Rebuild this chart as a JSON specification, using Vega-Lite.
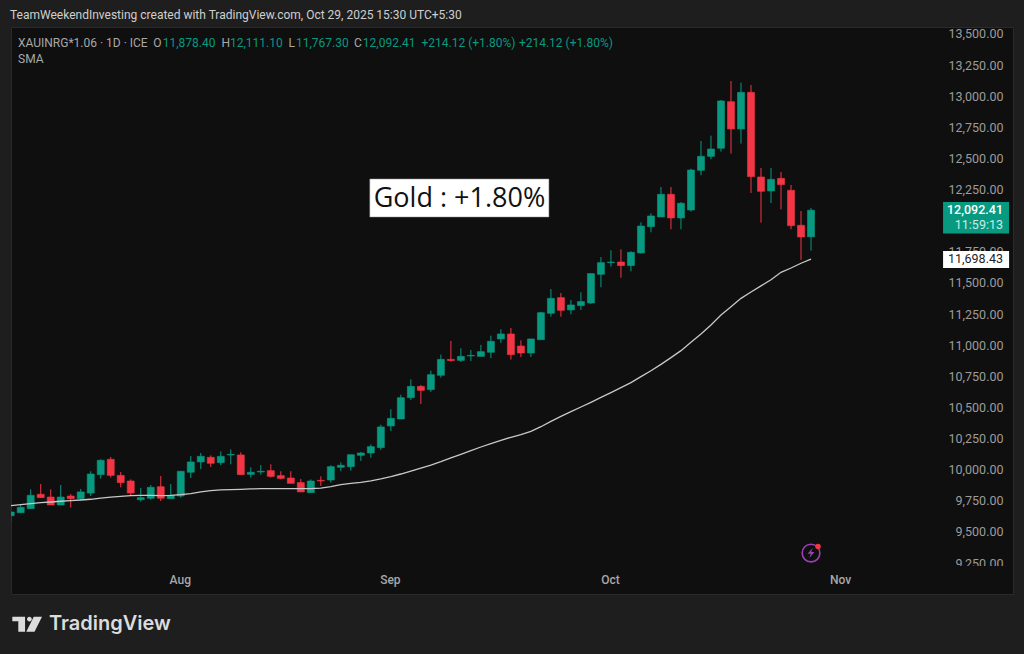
{
"$schema":"https://vega.github.io/schema/vega-lite/v6.json",
"width":1002,"height":567,
"autosize":{"type":"none"},
"padding":{"left":11,"top":27,"right":11,"bottom":60},
"background":"#1e1e1e",
"view":{"fill":"#0f0f0f","stroke":"#2a2a2a"},
"config":{"font":"Roboto"},
"datasets":{
"candles":[
{"n":0,"open":9638,"high":9668,"low":9590,"close":9668,"sma":9719},
{"n":1,"open":9662,"high":9724,"low":9662,"close":9705,"sma":9727},
{"n":2,"open":9695,"high":9850,"low":9695,"close":9802,"sma":9735},
{"n":3,"open":9810,"high":9893,"low":9783,"close":9783,"sma":9743},
{"n":4,"open":9788,"high":9850,"low":9724,"close":9724,"sma":9748},
{"n":5,"open":9724,"high":9885,"low":9724,"close":9788,"sma":9754},
{"n":6,"open":9796,"high":9812,"low":9703,"close":9775,"sma":9759},
{"n":7,"open":9775,"high":9853,"low":9764,"close":9829,"sma":9764},
{"n":8,"open":9820,"high":9995,"low":9796,"close":9973,"sma":9770},
{"n":9,"open":9968,"high":10091,"low":9936,"close":10083,"sma":9780},
{"n":10,"open":10091,"high":10110,"low":9944,"close":9962,"sma":9788},
{"n":11,"open":9962,"high":9989,"low":9866,"close":9904,"sma":9794},
{"n":12,"open":9917,"high":9930,"low":9796,"close":9820,"sma":9799},
{"n":13,"open":9767,"high":9861,"low":9751,"close":9783,"sma":9802},
{"n":14,"open":9778,"high":9885,"low":9767,"close":9866,"sma":9802},
{"n":15,"open":9871,"high":9957,"low":9756,"close":9778,"sma":9799},
{"n":16,"open":9775,"high":9893,"low":9775,"close":9802,"sma":9802},
{"n":17,"open":9796,"high":9995,"low":9783,"close":9995,"sma":9807},
{"n":18,"open":9987,"high":10118,"low":9941,"close":10070,"sma":9815},
{"n":19,"open":10070,"high":10142,"low":10013,"close":10115,"sma":9829},
{"n":20,"open":10107,"high":10123,"low":10029,"close":10059,"sma":9839},
{"n":21,"open":10064,"high":10155,"low":10045,"close":10115,"sma":9845},
{"n":22,"open":10126,"high":10171,"low":10051,"close":10131,"sma":9847},
{"n":23,"open":10126,"high":10147,"low":9968,"close":9968,"sma":9850},
{"n":24,"open":9970,"high":10027,"low":9944,"close":9987,"sma":9853},
{"n":25,"open":9989,"high":10045,"low":9968,"close":9995,"sma":9855},
{"n":26,"open":10000,"high":10051,"low":9944,"close":9954,"sma":9855},
{"n":27,"open":9960,"high":9995,"low":9930,"close":9938,"sma":9855},
{"n":28,"open":9941,"high":9995,"low":9898,"close":9898,"sma":9855},
{"n":29,"open":9904,"high":9933,"low":9829,"close":9829,"sma":9855},
{"n":30,"open":9823,"high":9930,"low":9823,"close":9917,"sma":9855},
{"n":31,"open":9922,"high":9954,"low":9877,"close":9917,"sma":9860},
{"n":32,"open":9925,"high":10043,"low":9904,"close":10032,"sma":9871},
{"n":33,"open":10027,"high":10067,"low":9995,"close":10043,"sma":9888},
{"n":34,"open":10032,"high":10128,"low":10000,"close":10128,"sma":9898},
{"n":35,"open":10123,"high":10150,"low":10078,"close":10142,"sma":9906},
{"n":36,"open":10142,"high":10211,"low":10104,"close":10193,"sma":9917},
{"n":37,"open":10185,"high":10369,"low":10166,"close":10351,"sma":9933},
{"n":38,"open":10359,"high":10493,"low":10319,"close":10420,"sma":9952},
{"n":39,"open":10415,"high":10610,"low":10415,"close":10586,"sma":9973},
{"n":40,"open":10586,"high":10734,"low":10568,"close":10677,"sma":9997},
{"n":41,"open":10677,"high":10688,"low":10535,"close":10645,"sma":10021},
{"n":42,"open":10651,"high":10803,"low":10632,"close":10771,"sma":10045},
{"n":43,"open":10766,"high":10932,"low":10747,"close":10894,"sma":10072},
{"n":44,"open":10894,"high":11042,"low":10876,"close":10884,"sma":10102},
{"n":45,"open":10886,"high":10983,"low":10873,"close":10918,"sma":10131},
{"n":46,"open":10921,"high":10969,"low":10881,"close":10926,"sma":10161},
{"n":47,"open":10918,"high":11010,"low":10918,"close":10956,"sma":10190},
{"n":48,"open":10951,"high":11084,"low":10905,"close":11039,"sma":10217},
{"n":49,"open":11058,"high":11135,"low":11026,"close":11098,"sma":10244},
{"n":50,"open":11098,"high":11146,"low":10892,"close":10932,"sma":10268},
{"n":51,"open":11001,"high":11047,"low":10913,"close":10945,"sma":10289},
{"n":52,"open":10945,"high":11058,"low":10913,"close":11058,"sma":10316},
{"n":53,"open":11052,"high":11275,"low":11052,"close":11269,"sma":10353},
{"n":54,"open":11264,"high":11459,"low":11237,"close":11384,"sma":10396},
{"n":55,"open":11390,"high":11427,"low":11237,"close":11288,"sma":10436},
{"n":56,"open":11291,"high":11371,"low":11256,"close":11331,"sma":10474},
{"n":57,"open":11326,"high":11433,"low":11291,"close":11358,"sma":10511},
{"n":58,"open":11347,"high":11583,"low":11339,"close":11583,"sma":10549},
{"n":59,"open":11577,"high":11716,"low":11473,"close":11671,"sma":10589},
{"n":60,"open":11671,"high":11770,"low":11639,"close":11676,"sma":10627},
{"n":61,"open":11676,"high":11778,"low":11550,"close":11647,"sma":10667},
{"n":62,"open":11647,"high":11762,"low":11601,"close":11754,"sma":10707},
{"n":63,"open":11749,"high":11995,"low":11743,"close":11965,"sma":10755},
{"n":64,"open":11960,"high":12067,"low":11915,"close":12046,"sma":10803},
{"n":65,"open":12038,"high":12279,"low":12038,"close":12220,"sma":10854},
{"n":66,"open":12220,"high":12279,"low":11939,"close":12030,"sma":10908},
{"n":67,"open":12030,"high":12158,"low":11939,"close":12148,"sma":10964},
{"n":68,"open":12094,"high":12426,"low":12081,"close":12415,"sma":11031},
{"n":69,"open":12413,"high":12648,"low":12373,"close":12525,"sma":11098},
{"n":70,"open":12525,"high":12691,"low":12501,"close":12584,"sma":11170},
{"n":71,"open":12590,"high":12978,"low":12563,"close":12970,"sma":11251},
{"n":72,"open":12964,"high":13130,"low":12547,"close":12745,"sma":11317},
{"n":73,"open":12745,"high":13117,"low":12627,"close":13039,"sma":11384},
{"n":74,"open":13039,"high":13098,"low":12231,"close":12362,"sma":11435},
{"n":75,"open":12359,"high":12432,"low":11992,"close":12244,"sma":11484},
{"n":76,"open":12247,"high":12432,"low":12150,"close":12340,"sma":11534},
{"n":77,"open":12348,"high":12399,"low":12099,"close":12298,"sma":11593},
{"n":78,"open":12252,"high":12295,"low":11939,"close":11968,"sma":11628},
{"n":79,"open":11971,"high":12086,"low":11692,"close":11877,"sma":11666},
{"n":80,"open":11878.40,"high":12111.10,"low":11767.30,"close":12092.41,"sma":11698.43}
]},
"encoding":{
"x":{"type":"quantitative","title":null,"scale":{"domain":[0.03,100.19],"nice":false,"zero":false,"padding":0},"axis":{"orient":"bottom","values":[17,38,60,83],"labelExpr":"datum.value==17?'Aug':datum.value==38?'Sep':datum.value==60?'Oct':'Nov'","domain":false,"ticks":false,"grid":false,"labelPadding":-15,"labelOffset":-1,"labelBaseline":"middle","labelColor":"#a8a8a8","labelFontSize":12,"labelFontWeight":500,"labelOverlap":false,"labelBound":false,"labelFlush":false}},
"y":{"type":"quantitative","title":null,"scale":{"domain":[9009,13564],"nice":false,"zero":false,"padding":0},"axis":{"orient":"right","values":[9250,9500,9750,10000,10250,10500,10750,11000,11250,11500,11750,12250,12500,12750,13000,13250,13500],"format":",.2f","domain":false,"ticks":false,"grid":false,"labelAlign":"right","labelPadding":-10,"labelOffset":-1,"labelColor":"#9c9c9c","labelFontSize":12.5,"labelOverlap":false,"labelBound":false,"labelFlush":false}}
},
"layer":[
{"data":{"name":"candles"},"mark":{"type":"rule","strokeWidth":1,"clip":true},
"encoding":{
"x":{"field":"n","type":"quantitative"},
"y":{"field":"low","type":"quantitative"},
"y2":{"field":"high"},
"color":{"condition":{"test":"datum.close>=datum.open","value":"#089981"},"value":"#f23645"}}},
{"data":{"name":"candles"},"mark":{"type":"bar","size":7,"orient":"vertical","clip":true,"strokeWidth":0.6},
"encoding":{
"x":{"field":"n","type":"quantitative"},
"y":{"field":"open","type":"quantitative"},
"y2":{"field":"close"},
"color":{"condition":{"test":"datum.close>=datum.open","value":"#089981"},"value":"#f23645"},
"stroke":{"condition":{"test":"datum.close>=datum.open","value":"#089981"},"value":"#f23645"}}},
{"data":{"name":"candles"},"mark":{"type":"line","stroke":"#c8c8c8","strokeWidth":1.3,"clip":true},
"encoding":{"x":{"field":"n","type":"quantitative"},"y":{"field":"sma","type":"quantitative"}}},
{"data":{"values":[{"x1":35.9,"x2":53.8,"y1":12038,"y2":12343}]},"mark":{"type":"rect","fill":"#ffffff","stroke":"#9a9a9a","strokeWidth":0.5},
"encoding":{"x":{"field":"x1","type":"quantitative"},"x2":{"field":"x2"},"y":{"field":"y1","type":"quantitative"},"y2":{"field":"y2"}}},
{"data":{"values":[{"n":44.86,"v":12182,"label":"Gold : +1.80%"}]},"mark":{"type":"text","font":"Open Sans","fontSize":27,"fill":"#111111","align":"center","baseline":"middle"},
"encoding":{"x":{"field":"n","type":"quantitative"},"y":{"field":"v","type":"quantitative"},"text":{"field":"label"}}},
{"data":{"values":[{"x1":93.2,"x2":99.8,"y1":11905,"y2":12158}]},"mark":{"type":"rect","fill":"#089981"},
"encoding":{"x":{"field":"x1","type":"quantitative"},"x2":{"field":"x2"},"y":{"field":"y1","type":"quantitative"},"y2":{"field":"y2"}}},
{"data":{"values":[{"x1":93.2,"x2":99.8,"y1":11628,"y2":11765}]},"mark":{"type":"rect","fill":"#ffffff"},
"encoding":{"x":{"field":"x1","type":"quantitative"},"x2":{"field":"x2"},"y":{"field":"y1","type":"quantitative"},"y2":{"field":"y2"}}},
{"data":{"values":[{"x1":93.2,"x2":100.19,"y1":9009,"y2":9234}]},"mark":{"type":"rect","fill":"#0f0f0f"},
"encoding":{"x":{"field":"x1","type":"quantitative"},"x2":{"field":"x2"},"y":{"field":"y1","type":"quantitative"},"y2":{"field":"y2"}}},
{"data":{"values":[{"n":99.19,"v":12092,"label":"12,092.41"}]},"mark":{"type":"text","fontSize":12.5,"fontWeight":500,"fill":"#ffffff","align":"right","baseline":"middle"},
"encoding":{"x":{"field":"n","type":"quantitative"},"y":{"field":"v","type":"quantitative"},"text":{"field":"label"}}},
{"data":{"values":[{"n":99.19,"v":11973,"label":"11:59:13"}]},"mark":{"type":"text","fontSize":12.5,"fill":"#c8ece6","align":"right","baseline":"middle"},
"encoding":{"x":{"field":"n","type":"quantitative"},"y":{"field":"v","type":"quantitative"},"text":{"field":"label"}}},
{"data":{"values":[{"n":99.19,"v":11698,"label":"11,698.43"}]},"mark":{"type":"text","fontSize":12.5,"fill":"#222222","align":"right","baseline":"middle"},
"encoding":{"x":{"field":"n","type":"quantitative"},"y":{"field":"v","type":"quantitative"},"text":{"field":"label"}}},
{"data":{"values":[
{"n":-0.07,"v":13661,"label":"TeamWeekendInvesting created with TradingView.com, Oct 29, 2025 15:30 UTC+5:30"}
]},"mark":{"type":"text","fontSize":12,"fill":"#cfcfcf","align":"left","baseline":"middle"},
"encoding":{"x":{"field":"n","type":"quantitative"},"y":{"field":"v","type":"quantitative"},"text":{"field":"label"}}},
{"data":{"values":[
{"n":0.73,"v":13436,"label":"XAUINRG*1.06 · 1D · ICE"},
{"n":14.26,"v":13436,"label":"O"},
{"n":21.06,"v":13436,"label":"H"},
{"n":27.78,"v":13436,"label":"L"},
{"n":34.32,"v":13436,"label":"C"},
{"n":0.73,"v":13307,"label":"SMA"}
]},"mark":{"type":"text","fontSize":12,"fill":"#a8a8a8","align":"left","baseline":"middle"},
"encoding":{"x":{"field":"n","type":"quantitative"},"y":{"field":"v","type":"quantitative"},"text":{"field":"label"}}},
{"data":{"values":[
{"n":15.2,"v":13436,"label":"11,878.40"},
{"n":21.92,"v":13436,"label":"12,111.10"},
{"n":28.52,"v":13436,"label":"11,767.30"},
{"n":35.2,"v":13436,"label":"12,092.41"},
{"n":41.06,"v":13436,"label":"+214.12 (+1.80%)"},
{"n":50.8,"v":13436,"label":"+214.12 (+1.80%)"}
]},"mark":{"type":"text","fontSize":12,"fill":"#089981","align":"left","baseline":"middle"},
"encoding":{"x":{"field":"n","type":"quantitative"},"y":{"field":"v","type":"quantitative"},"text":{"field":"label"}}},
{"data":{"values":[{"n":3.83,"v":8768,"label":"TradingView"}]},"mark":{"type":"text","font":"Inter","fontSize":20,"fontWeight":600,"fill":"#dcdcdc","align":"left","baseline":"middle"},
"encoding":{"x":{"field":"n","type":"quantitative"},"y":{"field":"v","type":"quantitative"},"text":{"field":"label"}}},
{"data":{"values":[{"n":1.63,"v":8768}]},"mark":{"type":"point","filled":true,"fill":"#dcdcdc","stroke":null,"opacity":1,"size":900,"shape":"M-0.98,-0.49 H-0.13 V0.51 H-0.58 V-0.18 H-0.98 Z M0,-0.33 A0.16,0.16 0 1 1 0.32,-0.33 A0.16,0.16 0 1 1 0,-0.33 Z M0.45,-0.49 H1 L0.5,0.51 H-0.05 Z"},
"encoding":{"x":{"field":"n","type":"quantitative"},"y":{"field":"v","type":"quantitative"}}},
{"data":{"values":[{"n":80,"v":9338}]},"mark":{"type":"point","shape":"circle","filled":false,"stroke":"#9c3fb5","strokeWidth":1.6,"opacity":1,"size":314},
"encoding":{"x":{"field":"n","type":"quantitative"},"y":{"field":"v","type":"quantitative"}}},
{"data":{"values":[{"n":80,"v":9338}]},"mark":{"type":"point","filled":true,"fill":"#9c3fb5","stroke":null,"opacity":1,"size":100,"shape":"M0.35,-1 L-0.7,0.15 H-0.05 L-0.35,1 L0.7,-0.2 H0.05 Z"},
"encoding":{"x":{"field":"n","type":"quantitative"},"y":{"field":"v","type":"quantitative"}}},
{"data":{"values":[{"n":80.7,"v":9391}]},"mark":{"type":"point","shape":"circle","filled":true,"fill":"#f23645","stroke":null,"opacity":1,"size":30},
"encoding":{"x":{"field":"n","type":"quantitative"},"y":{"field":"v","type":"quantitative"}}}
]
}
